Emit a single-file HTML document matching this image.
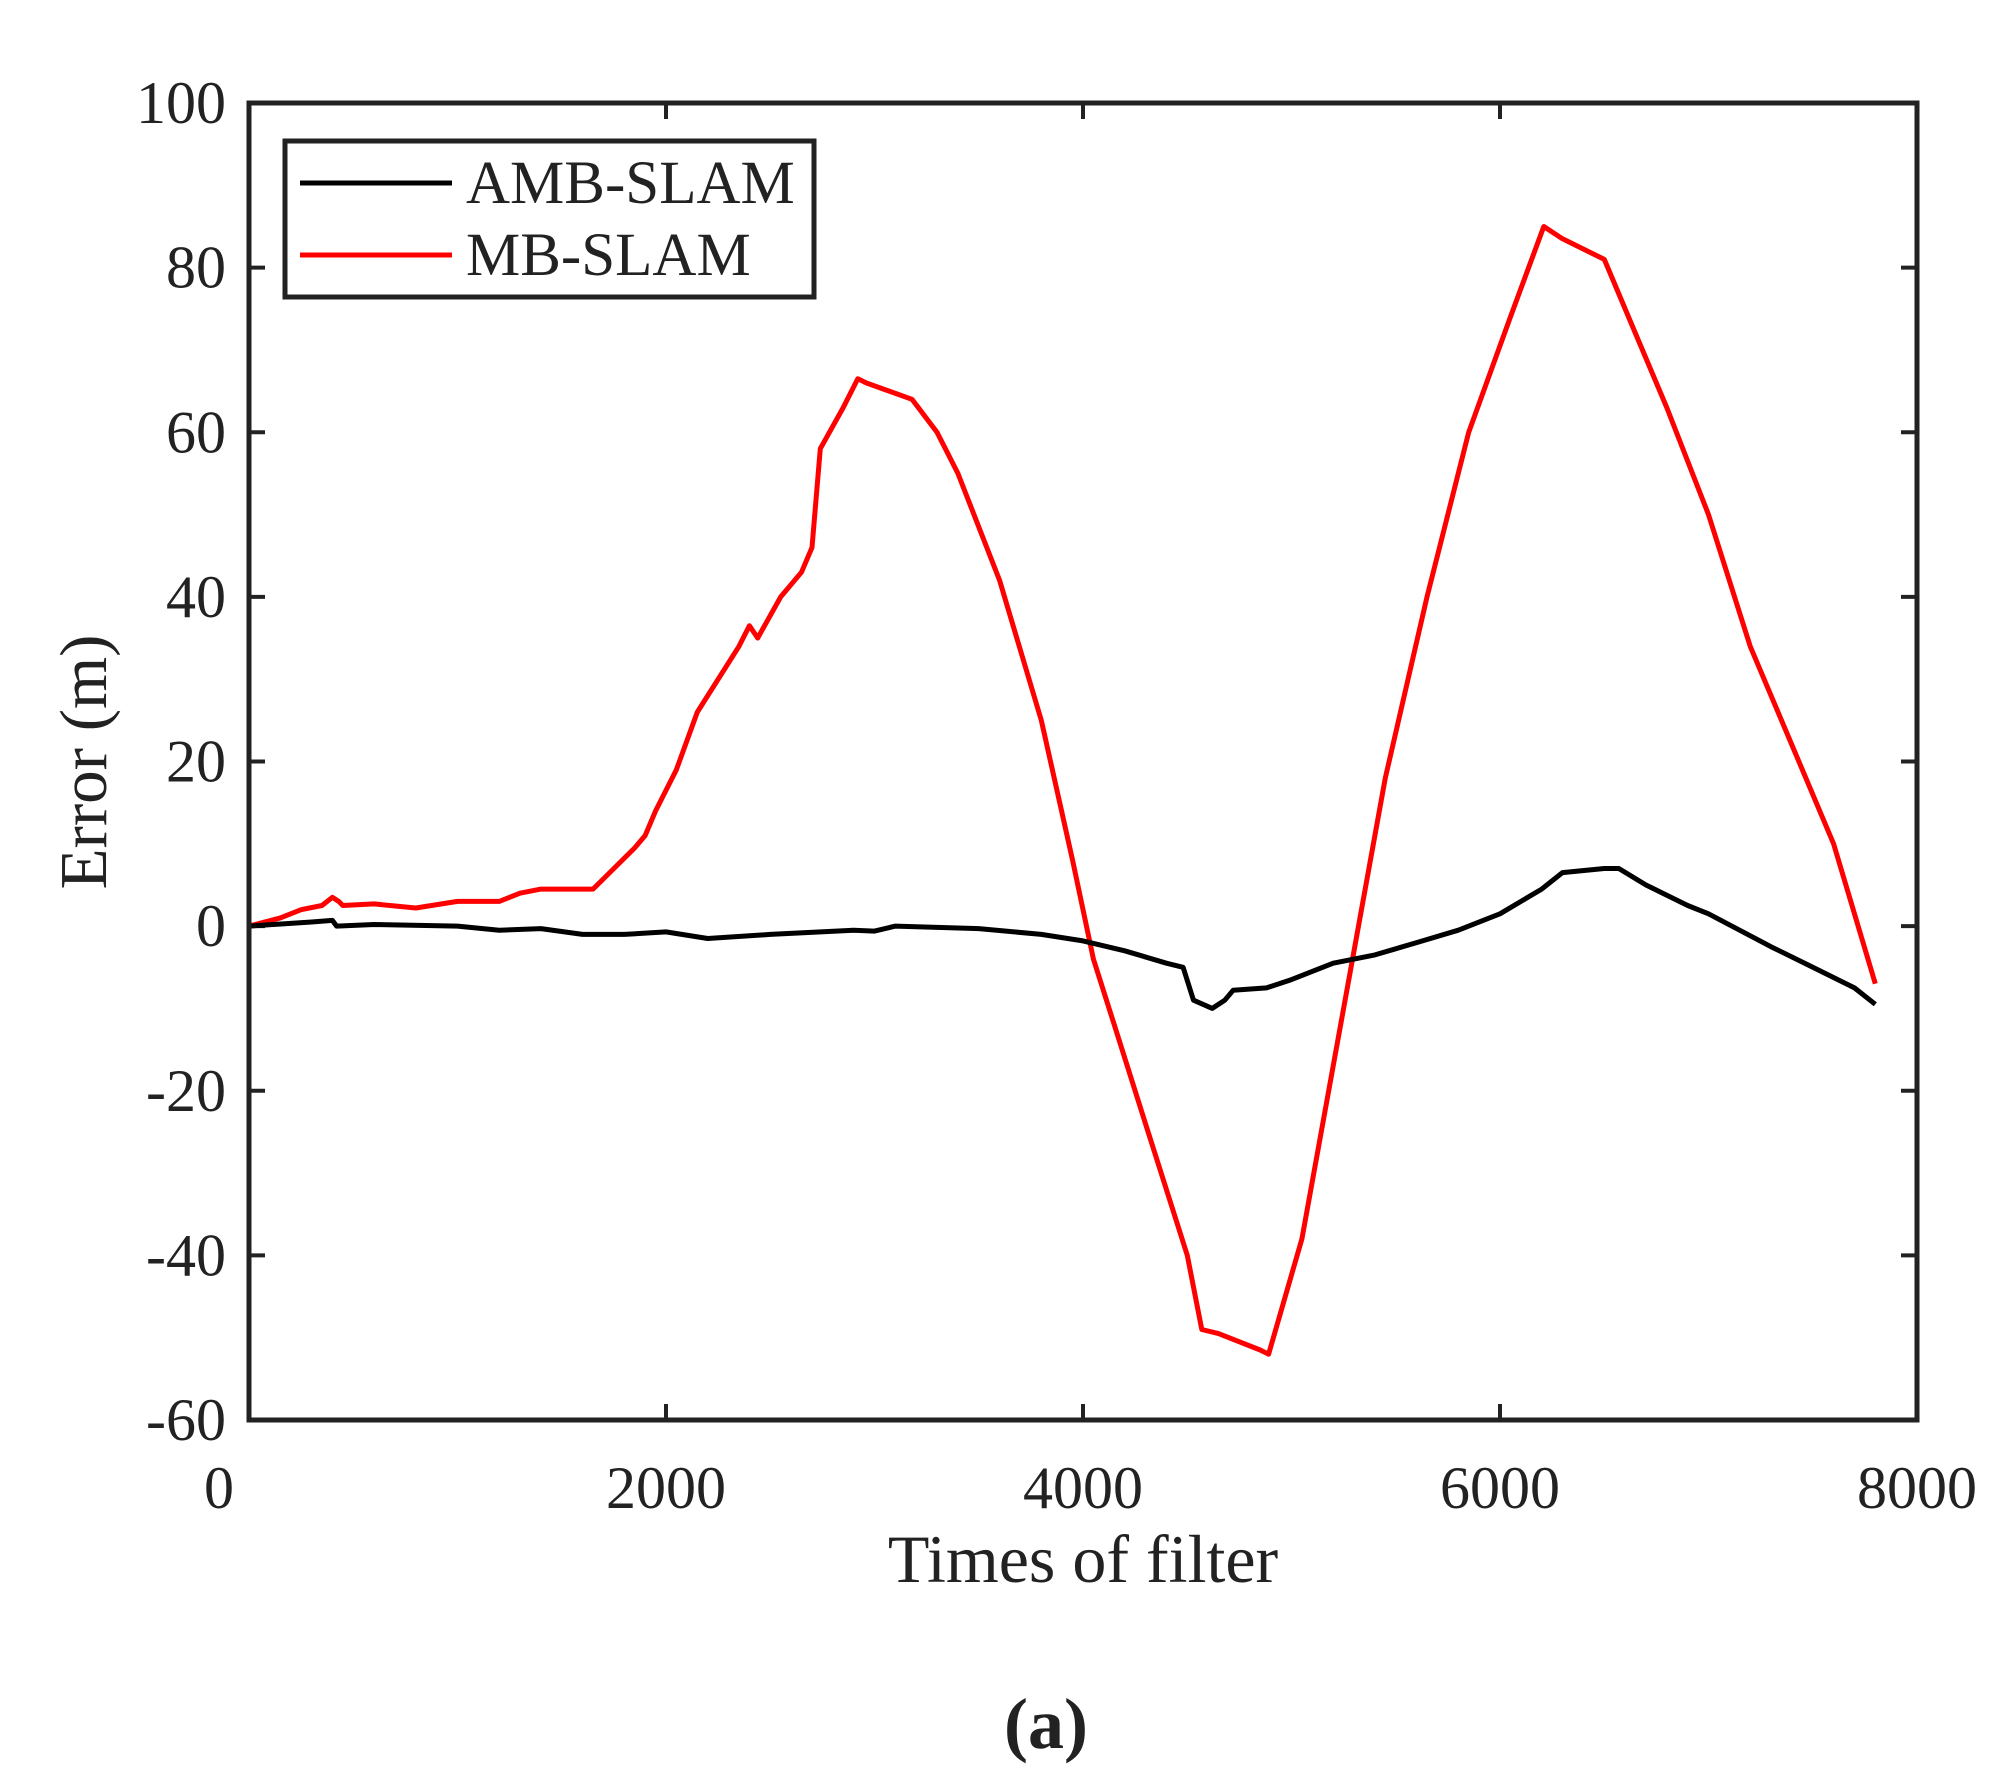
<!DOCTYPE html>
<html><head><meta charset="utf-8"><style>
html,body{margin:0;padding:0;background:#fff;}
svg{display:block;}
text{font-family:"Liberation Serif",serif;fill:#222;}
</style></head><body>
<svg id="s" width="2002" height="1787" viewBox="0 0 2002 1787" xmlns="http://www.w3.org/2000/svg">
<rect width="2002" height="1787" fill="#fff"/>
<g id="ticks" stroke="#222" stroke-width="4"></g>
<polyline id="red" fill="none" stroke="#ff0000" stroke-width="5" stroke-linejoin="round"/>
<polyline id="blk" fill="none" stroke="#000" stroke-width="5" stroke-linejoin="round"/>
<rect x="249" y="103" width="1668" height="1317" fill="none" stroke="#222" stroke-width="5"/>
<rect x="285" y="141" width="529" height="156" fill="#fff" stroke="#222" stroke-width="5"/>
<line x1="300" y1="183" x2="452" y2="183" stroke="#000" stroke-width="5"/>
<line x1="300" y1="255" x2="452" y2="255" stroke="#ff0000" stroke-width="5"/>
<text x="466" y="203" font-size="61">AMB-SLAM</text>
<text x="466" y="275" font-size="61">MB-SLAM</text>
<g id="lbl" font-size="60"></g>
<text x="1083" y="1582" font-size="68" text-anchor="middle">Times of filter</text>
<text transform="translate(106,762) rotate(-90)" font-size="67" text-anchor="middle">Error (m)</text>
<text x="1046" y="1748" font-size="72" font-weight="bold" text-anchor="middle">(a)</text>
</svg>
<script>
var L=249,R=1917,T=103,B=1420;
function X(v){return L+(v/8000)*(R-L);}
function Y(v){return B-((v+60)/160)*(B-T);}
var red=[[0,0],[150,1],[250,2],[350,2.5],[400,3.5],[430,3],[450,2.5],[600,2.7],[800,2.2],[1000,3],[1200,3],[1300,4],[1400,4.5],[1650,4.5],[1750,7],[1850,9.5],[1900,11],[1950,14],[2050,19],[2150,26],[2350,34],[2400,36.5],[2440,35],[2550,40],[2650,43],[2700,46],[2740,58],[2850,63],[2920,66.5],[2960,66],[3180,64],[3300,60],[3400,55],[3600,42],[3800,25],[3950,8],[4050,-4],[4150,-12],[4300,-24],[4500,-40],[4570,-49],[4650,-49.5],[4850,-51.5],[4890,-52],[5050,-38],[5250,-10],[5450,18],[5650,40],[5850,60],[6050,74],[6210,85],[6300,83.5],[6500,81],[6650,72],[6800,63],[7000,50],[7200,34],[7400,22],[7600,10],[7800,-7]];
var blk=[[0,0],[300,0.5],[400,0.7],[420,0],[600,0.2],[1000,0],[1200,-0.5],[1400,-0.3],[1600,-1],[1800,-1],[2000,-0.7],[2200,-1.5],[2500,-1],[2900,-0.5],[3000,-0.6],[3100,0],[3500,-0.3],[3800,-1],[4000,-1.8],[4200,-3],[4400,-4.5],[4480,-5],[4530,-9],[4620,-10],[4680,-9],[4720,-7.8],[4880,-7.5],[5000,-6.5],[5200,-4.5],[5400,-3.5],[5600,-2],[5800,-0.5],[6000,1.5],[6200,4.5],[6300,6.5],[6500,7],[6570,7],[6700,5],[6900,2.5],[7000,1.5],[7300,-2.5],[7500,-5],[7700,-7.5],[7800,-9.5]];
function pts(a){return a.map(function(p){return X(p[0]).toFixed(1)+","+Y(p[1]).toFixed(1);}).join(" ");}
document.getElementById("red").setAttribute("points",pts(red));
document.getElementById("blk").setAttribute("points",pts(blk));
var NS="http://www.w3.org/2000/svg",tg=document.getElementById("ticks"),lg=document.getElementById("lbl");
function ln(x1,y1,x2,y2){var l=document.createElementNS(NS,"line");l.setAttribute("x1",x1);l.setAttribute("y1",y1);l.setAttribute("x2",x2);l.setAttribute("y2",y2);tg.appendChild(l);}
function tx(x,y,s,a){var t=document.createElementNS(NS,"text");t.setAttribute("x",x);t.setAttribute("y",y);t.setAttribute("text-anchor",a);t.textContent=s;lg.appendChild(t);}
for(var v=-60;v<=100;v+=20){var y=Y(v);ln(L,y,L+16,y);ln(R,y,R-16,y);tx(226,y+20,String(v),"end");}
for(var v=0;v<=8000;v+=2000){var x=X(v);ln(x,B,x,B-16);ln(x,T,x,T+16);tx(x-(v==0?30:0),1508,String(v),"middle");}
</script>
</body></html>
